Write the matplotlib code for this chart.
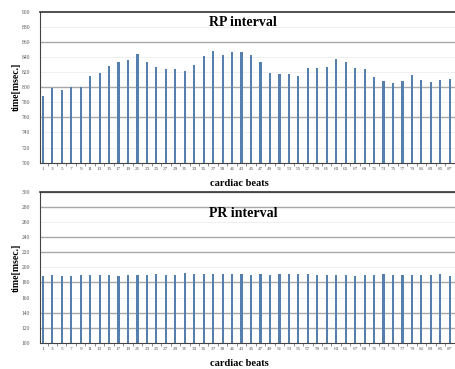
import matplotlib
matplotlib.use("Agg")
import matplotlib.pyplot as plt
import numpy as np

beats = list(range(1, 88, 2))
rp = [788.7, 799.3, 796, 800, 800.7, 814.8, 818.3, 828.5, 833.3, 835.5,
      843.5, 834, 827, 823.6, 824, 821.4, 829.4, 841.3, 847.9, 842.2,
      846.6, 846.6, 842.2, 833.3, 819.2, 817.9, 817.9, 814.3, 825, 825,
      827.2, 837.3, 833.3, 825, 823.6, 813.5, 807.7, 805.5, 807.7, 815.7,
      810, 807.3, 809, 810.8]
pr = [188.4, 190.1, 189.2, 189.2, 190, 190, 190, 190, 189.2, 190,
      190, 190, 191.4, 190, 190, 192.3, 191.4, 191.4, 191.4, 191.4,
      191.4, 191.4, 190, 191.4, 190, 191.4, 191.4, 191.4, 191.4, 190,
      190, 190, 190, 189.2, 190, 190, 191.4, 190, 190, 190,
      190, 190, 191.4, 189.2]
rp_ticks = list(range(700, 901, 20))
pr_ticks = list(range(100, 301, 20))

W, H = 455, 369
fig = plt.figure(figsize=(W/100, H/100), dpi=100)

serif = "Liberation Serif"
bar_color = "#5580ad"

def make(ax_rect, vals, ticks, title, strong, title_y):
    ax = fig.add_axes(ax_rect)
    x = np.arange(len(beats))
    for t in ticks:
        col = "#a8a8a8" if t in strong else "#ececec"
        ax.axhline(t, color=col, lw=1.0 if t in strong else 0.6, zorder=0)
    ax.bar(x, vals, width=0.23, color=bar_color, zorder=2)
    ax.set_ylim(ticks[0], ticks[-1])
    ax.set_xlim(-0.3, len(beats) - 0.45)
    ax.set_yticks(ticks)
    ax.set_yticklabels([str(t) for t in ticks], fontsize=4, color="#555555",
                       family=serif)
    ax.set_xticks(x)
    ax.set_xticklabels([str(b) for b in beats], fontsize=3.8, color="#555555",
                       family=serif)
    ax.tick_params(axis="x", which="major", length=0, pad=3)
    ax.set_xticks(x[:-1] + 0.5, minor=True)
    ax.tick_params(axis="x", which="minor", length=2, color="#777777", width=0.6)
    ax.tick_params(axis="y", length=0, pad=7)
    ax.spines["right"].set_visible(False)
    ax.spines["top"].set_color("#333333")
    ax.spines["top"].set_linewidth(1.2)
    ax.spines["left"].set_color("#444444")
    ax.spines["left"].set_linewidth(0.8)
    ax.spines["bottom"].set_color("#444444")
    ax.spines["bottom"].set_linewidth(0.8)
    ax.text(0.49, title_y, title, transform=ax.transAxes, ha="center", va="center",
            fontsize=10, fontweight="bold", family=serif)
    ax.set_xlabel("cardiac beats", fontsize=7.5, fontweight="bold", family=serif,
                  labelpad=1)
    ax.xaxis.set_label_coords(0.48, -0.105)
    ax.set_ylabel("time[msec.]", fontsize=7, fontweight="bold", family=serif)
    ax.yaxis.set_label_coords(-0.045, 0.5)
    return ax

# top axes: x 40..455, y 11.7..162.7
make([40/W, 1 - 162.7/H, 415/W, 151/H], rp, rp_ticks, "RP interval",
     {860, 800, 760}, 0.93)
# bottom axes: y 191.7..343
make([40/W, 1 - 343/H, 415/W, 151.3/H], pr, pr_ticks, "PR interval",
     {300, 280, 240, 220, 180, 140, 120}, 0.855)

fig.savefig("out.png", dpi=100)
